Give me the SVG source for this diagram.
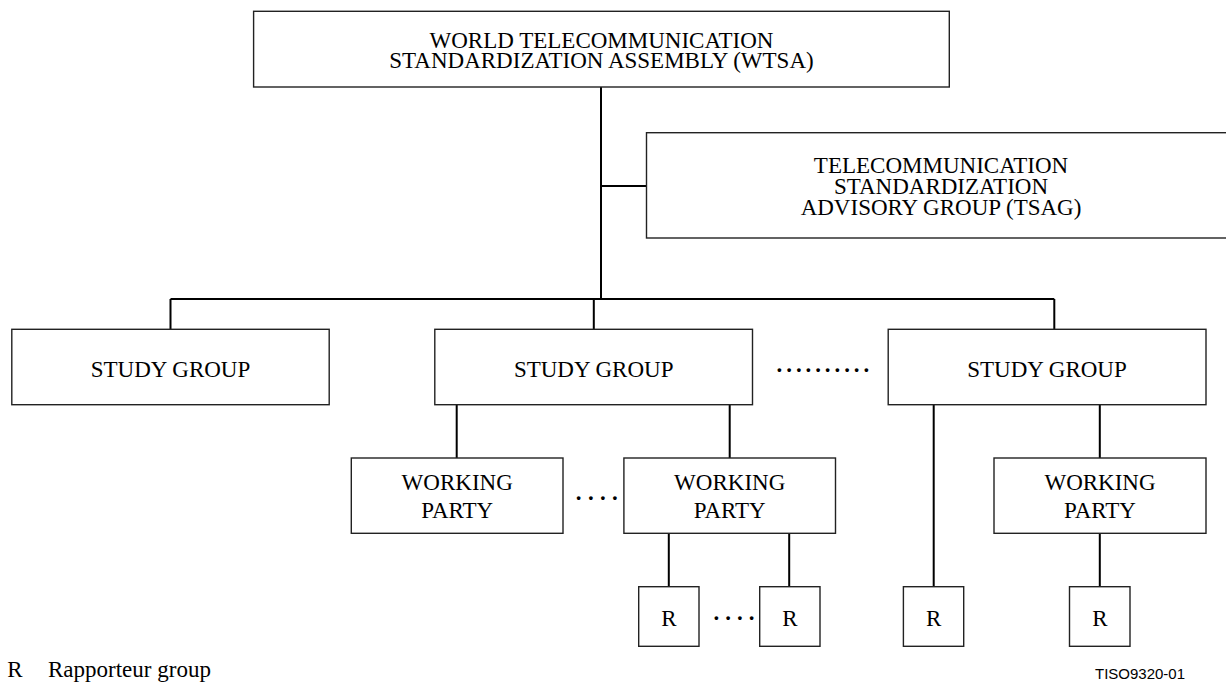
<svg xmlns="http://www.w3.org/2000/svg" width="1226" height="682" viewBox="0 0 1226 682">
<style>
.box{fill:#fff;stroke:#222;stroke-width:1.4}
.ln{fill:none;stroke:#000;stroke-width:2}
.t{font-family:"Liberation Serif","Times New Roman",serif;font-size:23px;fill:#000;text-anchor:middle}
.d{font-family:"Liberation Serif","Times New Roman",serif;font-size:23px;fill:#000;font-weight:bold}
.s{font-family:"Liberation Sans",Arial,sans-serif;font-size:15px;fill:#000}
</style>
<rect width="1226" height="682" fill="#fff"/>
<g id="connectors">
<path class="ln" d="M601,87V299M601,186H646.5M170.5,299H1054.3M170.5,299V329.3M593.8,299V329.3M1054.3,299V329.3"/>
<path class="ln" d="M456.7,404.7V458M729.7,404.7V458M933.7,404.7V586.7M1099.8,404.7V458"/>
<path class="ln" d="M668.8,533.3V586.7M789.2,533.3V586.7M1099.8,533.3V586.7"/>
</g>
<g id="wtsa">
<rect class="box" x="253.6" y="11.3" width="695.7" height="75.7"/>
<text class="t" x="601.5" y="48.3">WORLD TELECOMMUNICATION</text>
<text class="t" x="601.5" y="68">STANDARDIZATION ASSEMBLY (WTSA)</text>
</g>
<g id="tsag">
<rect class="box" x="646.5" y="132.7" width="600" height="105.3"/>
<text class="t" x="941" y="173.3">TELECOMMUNICATION</text>
<text class="t" x="941" y="194">STANDARDIZATION</text>
<text class="t" x="941" y="214.5">ADVISORY GROUP (TSAG)</text>
</g>
<g id="sg1">
<rect class="box" x="11.8" y="329.3" width="317.4" height="75.4"/>
<text class="t" x="170.5" y="377">STUDY GROUP</text>
</g>
<g id="sg2">
<rect class="box" x="434.8" y="329.3" width="317.7" height="75.4"/>
<text class="t" x="593.7" y="377">STUDY GROUP</text>
</g>
<g id="sg-dots">
<text class="d" x="776.6" y="372" textLength="92.6" lengthAdjust="spacing">..........</text>
</g>
<g id="sg3">
<rect class="box" x="888.2" y="329.3" width="317.8" height="75.4"/>
<text class="t" x="1047" y="377">STUDY GROUP</text>
</g>
<g id="wp1">
<rect class="box" x="351.3" y="458" width="211.7" height="75.3"/>
<text class="t" x="457.2" y="490">WORKING</text>
<text class="t" x="457.2" y="518.3">PARTY</text>
</g>
<g id="wp-dots">
<text class="d" x="575.8" y="499.5" textLength="42" lengthAdjust="spacing">....</text>
</g>
<g id="wp2">
<rect class="box" x="623.9" y="458" width="211.6" height="75.3"/>
<text class="t" x="729.7" y="490">WORKING</text>
<text class="t" x="729.7" y="518.3">PARTY</text>
</g>
<g id="wp3">
<rect class="box" x="994" y="458" width="212" height="75.3"/>
<text class="t" x="1100" y="490">WORKING</text>
<text class="t" x="1100" y="518.3">PARTY</text>
</g>
<g id="r1">
<rect class="box" x="638.7" y="586.7" width="60.3" height="59.6"/>
<text class="t" x="668.8" y="625.5">R</text>
</g>
<g id="r-dots">
<text class="d" x="713.6" y="619.5" textLength="41" lengthAdjust="spacing">....</text>
</g>
<g id="r2">
<rect class="box" x="759.7" y="586.7" width="60.3" height="59.6"/>
<text class="t" x="789.8" y="625.5">R</text>
</g>
<g id="r3">
<rect class="box" x="903.4" y="586.7" width="60.3" height="59.6"/>
<text class="t" x="933.6" y="625.5">R</text>
</g>
<g id="r4">
<rect class="box" x="1069.5" y="586.7" width="60.5" height="59.6"/>
<text class="t" x="1099.8" y="625.5">R</text>
</g>
<g id="legend">
<text class="t" style="text-anchor:start" x="7.3" y="677">R</text>
<text class="t" style="text-anchor:start" x="48" y="677">Rapporteur group</text>
<text class="s" x="1095" y="679">TISO9320-01</text>
</g>
</svg>
